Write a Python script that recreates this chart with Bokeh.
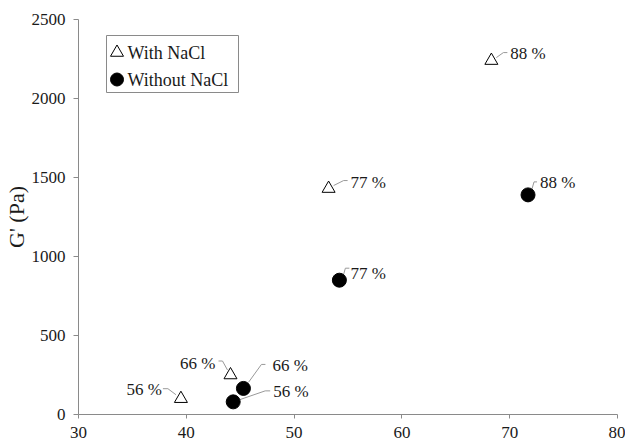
from bokeh.plotting import figure
from bokeh.models import Range1d, FixedTicker
from bokeh.core.properties import value
from bokeh.embed import file_html
from bokeh.resources import INLINE

# ---- data ----
with_x = [39.5, 44.1, 53.2, 68.3]
with_y = [100, 250, 1430, 2240]
with_labels = ["56 %", "66 %", "77 %", "88 %"]

without_x = [44.35, 45.3, 54.2, 71.7]
without_y = [80, 165, 850, 1390]
without_labels = ["56 %", "66 %", "77 %", "88 %"]

x_ticks = [30, 40, 50, 60, 70, 80]
y_ticks = [0, 500, 1000, 1500, 2000, 2500]
y_title = "G' (Pa)"
legend_names = ["With NaCl", "Without NaCl"]

# ---- layout / style ----
FONT = "Liberation Serif"
X0, X1, Y0, Y1 = 30, 80, 0, 2500
FW, FH = 539, 395
PX = FW / (X1 - X0)
PY = FH / (Y1 - Y0)
GRAY = "#8a8a8a"
TXT = "#1a1a1a"

# label offsets (px, y down) and leader polylines per point
with_lab_off = [(-19, -9, "right"), (-15, -12, "right"), (22, -6, "left"), (19, -7, "left")]
with_lead = [[(-18, -10), (-13, -10), (-5, -4)],
             [(-12, -14), (-8, -14), (-3, -5)],
             [(19, -8), (15, -8), (5, -3)],
             [(16, -8), (12, -8), (5, -3)]]
without_lab_off = [(40, -10, "left"), (29, -23, "left"), (11, -7, "left"), (12, -12, "left")]
without_lead = [[(37, -11), (32, -11), (6, -2)],
                [(22, -24), (18, -24), (5, -6)],
                [(10, -12), (6, -12), (4, -5)],
                [(9, -13), (6, -13), (4, -6)]]

p = figure(frame_width=FW, frame_height=FH, output_backend="svg", toolbar_location=None,
           x_range=Range1d(X0, X1), y_range=Range1d(Y0, Y1),
           min_border_left=60, min_border_right=8, min_border_top=19, min_border_bottom=29)
p.outline_line_color = None
p.xgrid.visible = False
p.ygrid.visible = False
p.background_fill_color = "white"

for ax in (p.xaxis[0], p.yaxis[0]):
    ax.axis_line_color = GRAY
    ax.major_tick_line_color = GRAY
    ax.minor_tick_line_color = None
    ax.major_tick_in = 0
    ax.major_tick_out = 4
    ax.major_label_text_font = FONT
    ax.major_label_text_font_size = "17px"
    ax.major_label_text_color = TXT
p.xaxis[0].ticker = FixedTicker(ticks=x_ticks)
p.yaxis[0].ticker = FixedTicker(ticks=y_ticks)
p.xaxis[0].major_label_standoff = 8
p.yaxis[0].major_label_standoff = 8
p.yaxis[0].major_tick_out = 5
p.yaxis[0].axis_label = y_title
p.yaxis[0].axis_label_text_font = FONT
p.yaxis[0].axis_label_text_font_size = "22px"
p.yaxis[0].axis_label_text_font_style = "normal"
p.yaxis[0].axis_label_text_color = TXT
p.yaxis[0].axis_label_standoff = 0


def leaders(xs, ys, leads):
    lx, ly = [], []
    for x, y, pts in zip(xs, ys, leads):
        lx.append([x + dx / PX for dx, dy in pts])
        ly.append([y - dy / PY for dx, dy in pts])
    return lx, ly


for xs, ys, leads in ((with_x, with_y, with_lead), (without_x, without_y, without_lead)):
    lx, ly = leaders(xs, ys, leads)
    p.multi_line(lx, ly, line_color="#999999", line_width=1)

p.scatter(with_x, with_y, marker="triangle", size=13, fill_color="white",
          line_color="black", line_width=1)
p.scatter(without_x, without_y, marker="circle", size=14, fill_color="black",
          line_color="black")

for xs, ys, labs, offs in ((with_x, with_y, with_labels, with_lab_off),
                           (without_x, without_y, without_labels, without_lab_off)):
    for x, y, t, (dx, dy, al) in zip(xs, ys, labs, offs):
        p.text(x=[x], y=[y], text=[t], x_offset=dx, y_offset=dy, text_align=al,
               text_baseline="middle", text_font=value(FONT), text_font_size="17px",
               text_color=TXT)

# ---- manual legend (offsets from top-left of plot frame, px) ----
LB = (28, 16, 160, 73)  # left, top, right, bottom
p.quad(left=[X0 + LB[0] / PX], right=[X0 + LB[2] / PX],
       top=[Y1 - LB[1] / PY], bottom=[Y1 - LB[3] / PY],
       fill_color="white", line_color=GRAY, line_width=1)
rows = [17 + 16, 17 + 43]
mk_x = X0 + 38.5 / PX
p.scatter([mk_x], [Y1 - rows[0] / PY], marker="triangle", size=13, fill_color="white",
          line_color="black", line_width=1)
p.scatter([mk_x], [Y1 - rows[1] / PY], marker="circle", size=13, fill_color="black",
          line_color="black")
p.text(x=[X0 + 49 / PX] * 2, y=[Y1 - r / PY for r in rows], text=legend_names,
       text_align="left", text_baseline="middle", text_font=value(FONT),
       text_font_size="18px", text_color=TXT)

open("out.html", "w").write(file_html(p, INLINE))
